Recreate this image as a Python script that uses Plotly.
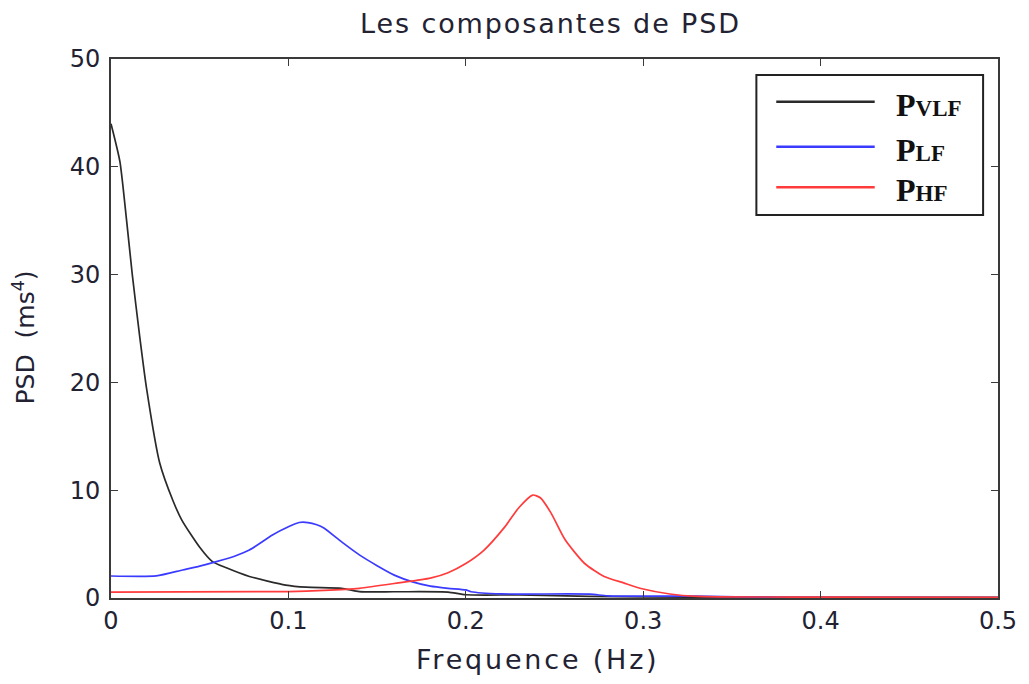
import plotly.graph_objects as go

# --- data ---
vlf_x = [0, 0.005, 0.0088, 0.012, 0.016, 0.02, 0.0275, 0.035, 0.04, 0.05, 0.057, 0.065, 0.078, 0.0985, 0.11, 0.13, 0.14, 0.16, 0.19, 0.2, 0.23, 0.27, 0.3, 0.35, 0.4, 0.5]
vlf_y = [44, 40.5, 35, 30, 24.5, 19.5, 12.5, 9.0, 7.2, 4.7, 3.4, 2.8, 2.0, 1.2, 1.0, 0.9, 0.6, 0.58, 0.55, 0.3, 0.28, 0.15, 0.1, 0.08, 0.06, 0.05]

lf_x = [0, 0.0255, 0.0404, 0.05, 0.0594, 0.07, 0.078, 0.091, 0.1, 0.106, 0.111, 0.116, 0.12, 0.13, 0.14, 0.15, 0.16, 0.17, 0.18, 0.19, 0.2, 0.203, 0.22, 0.27, 0.28, 0.33, 0.36, 0.4, 0.5]
lf_y = [2.04, 2.05, 2.6, 2.95, 3.37, 3.9, 4.45, 5.84, 6.6, 7.0, 7.0, 6.8, 6.5, 5.2, 4.0, 3.0, 2.1, 1.5, 1.1, 0.9, 0.75, 0.58, 0.38, 0.36, 0.2, 0.17, 0.08, 0.05, 0.03]

hf_x = [0, 0.1, 0.12, 0.14, 0.162, 0.18, 0.19, 0.2, 0.21, 0.222, 0.23, 0.2377, 0.242, 0.248, 0.256, 0.267, 0.278, 0.289, 0.3, 0.315, 0.33, 0.4, 0.5]
hf_y = [0.55, 0.6, 0.7, 0.9, 1.4, 1.85, 2.35, 3.2, 4.4, 6.6, 8.4, 9.55, 9.3, 7.9, 5.4, 3.2, 2.0, 1.4, 0.83, 0.37, 0.15, 0.08, 0.05]

x_ticks = [0, 0.1, 0.2, 0.3, 0.4, 0.5]
x_tick_labels = ["0", "0.1", "0.2", "0.3", "0.4", "0.5"]
y_ticks = [0, 10, 20, 30, 40, 50]
y_tick_labels = ["0", "10", "20", "30", "40", "50"]

series = [
    ("VLF", vlf_x, vlf_y, "#2a2a2a"),
    ("LF", lf_x, lf_y, "#3b3bff"),
    ("HF", hf_x, hf_y, "#ff3b3b"),
]

FONT = "DejaVu Sans, Verdana, sans-serif"
TXT = "#222233"

fig = go.Figure()
for name, xs, ys, col in series:
    fig.add_trace(go.Scatter(x=xs, y=ys, mode="lines", name=name,
                             line=dict(color=col, width=1.7, shape="spline", smoothing=0.6),
                             showlegend=False))

axis_common = dict(showline=True, linecolor="#3a3a3a", linewidth=1.8, mirror="ticks",
                   ticks="inside", ticklen=7, tickcolor="#3a3a3a", tickwidth=1.3,
                   showgrid=False, zeroline=False,
                   tickfont=dict(family=FONT, size=24, color=TXT))

fig.update_xaxes(range=[0, 0.5], tickvals=x_ticks, ticktext=x_tick_labels, **axis_common)
fig.update_yaxes(range=[0, 50], tickvals=y_ticks, ticktext=y_tick_labels,
                 ticklabelstandoff=4, **axis_common)

# custom legend box (paper coords)
shapes = [dict(type="rect", xref="paper", yref="paper", x0=0.7276, x1=0.9832, y0=0.7106, y1=0.9703,
               line=dict(color="#222222", width=2), fillcolor="white", layer="above")]
ann = []
ys_leg = [0.9208, 0.8373, 0.762]
for (name, xs, ys, col), yl in zip(series, ys_leg):
    shapes.append(dict(type="line", xref="paper", yref="paper", x0=0.75, x1=0.861, y0=yl, y1=yl,
                       line=dict(color=col, width=2.4), layer="above"))
    ann.append(dict(xref="paper", yref="paper", x=0.8823, y=yl, yshift=-3, xanchor="left", yanchor="middle",
                    showarrow=False,
                    text="<b>P<span style='font-size:23px'>%s</span></b>" % name,
                    font=dict(family="Liberation Serif, Times New Roman, serif", size=32, color="#111111")))

# axis titles
ann.append(dict(xref="paper", yref="paper", x=0.481, y=-0.115, xanchor="center", yanchor="middle",
                showarrow=False,
                text="<span style='letter-spacing:2.8px'>Frequence (Hz)</span>",
                font=dict(family=FONT, size=27, color=TXT)))
ann.append(dict(xref="paper", yref="paper", x=-0.0975, y=0.4824, xanchor="center", yanchor="middle",
                textangle=-90, showarrow=False,
                text="PSD  (ms<sup>4</sup>)",
                font=dict(family=FONT, size=25, color=TXT)))

fig.update_layout(
    width=1029, height=684,
    margin=dict(l=111, r=26, t=59, b=86),
    paper_bgcolor="white", plot_bgcolor="white",
    title=dict(text="<span style='letter-spacing:1.9px'>Les composantes de PSD</span>",
               xref="paper", x=0.4955, xanchor="center", y=0.965, yanchor="middle",
               font=dict(family=FONT, size=27, color=TXT)),
    shapes=shapes, annotations=ann,
)

fig.write_html("out.html")
